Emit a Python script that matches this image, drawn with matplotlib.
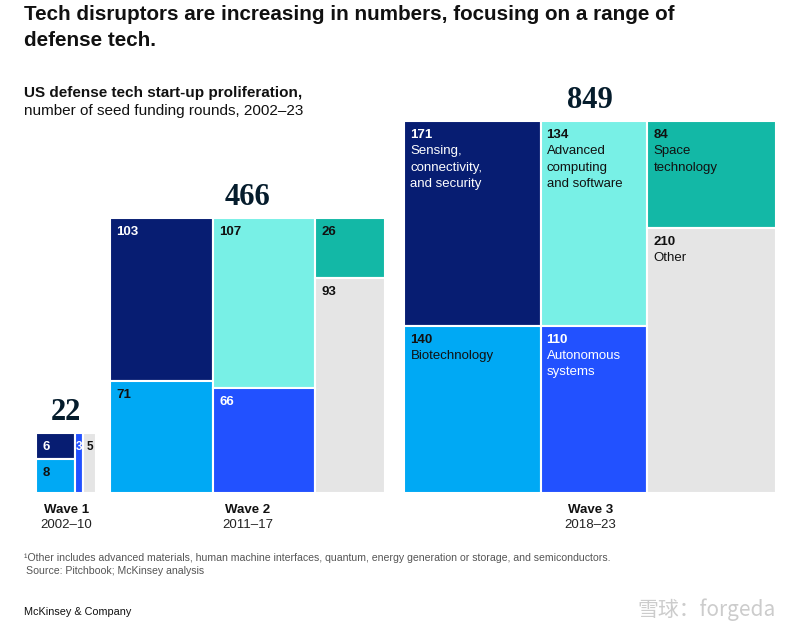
import numpy as np
import matplotlib.pyplot as plt
from matplotlib.patches import Rectangle

# Données : nombre de tours de financement par vague et par catégorie
waves = ["Wave 1", "Wave 2", "Wave 3"]
periods = ["2002\u201310", "2011\u201317", "2018\u201323"]

sensing = [6, 103, 171]
biotech = [8, 71, 140]
computing = [0, 107, 134]
autonomous = [3, 66, 110]
space = [0, 26, 84]
other = [5, 93, 210]

# colonnes : (haut, bas)
columns = [(sensing, biotech), (computing, autonomous), (space, other)]
top_names = ["Sensing,\nconnectivity,\nand security", "Advanced\ncomputing\nand software", "Space\ntechnology"]
bottom_names = ["Biotechnology", "Autonomous\nsystems", "Other"]
top_colors = ["#071d72", "#78f0e6", "#13b8a6"]
bottom_colors = ["#00a9f4", "#2251ff", "#e5e5e5"]
top_text = ["white", "#111111", "#111111"]
bottom_text = ["#111111", "white", "#111111"]

plt.rcParams['font.family'] = ['Liberation Sans', 'DejaVu Sans']

fig = plt.figure(figsize=(8, 6.39), dpi=100)
ax = fig.add_axes([0, 0, 1, 1])
ax.set_xlim(0, 800)
ax.set_ylim(639, 0)
ax.axis('off')

k = 12.75        # pixels par racine d'unité (aire ~ total)
base = 493
gaps = [14, 19]
totals = [sum(c[0][i] + c[1][i] for c in columns) for i in range(3)]
sides = [k * np.sqrt(t) for t in totals]
x0 = 776 - (sum(sides) + sum(gaps))

for i in range(3):
    side = sides[i]
    top = base - side
    cx = x0
    for j, (tser, bser) in enumerate(columns):
        colsum = tser[i] + bser[i]
        if colsum == 0:
            continue
        w = side * colsum / totals[i]
        h_top = side * tser[i] / colsum
        cells = [(tser[i], top, h_top, top_colors[j], top_text[j], top_names[j]),
                 (bser[i], top + h_top, side - h_top, bottom_colors[j], bottom_text[j], bottom_names[j])]
        for val, y, h, col, tc, name in cells:
            if val == 0:
                continue
            ax.add_patch(Rectangle((cx, y), w, h, facecolor=col, edgecolor='white', linewidth=1.5))
            small = w < 20
            ax.text(cx + (w / 2 if small else 6), y + 8, str(val),
                    ha='center' if small else 'left', va='top',
                    fontsize=8.5 if small else 9.5, fontweight='bold', color=tc)
            if i == 2:
                ax.text(cx + 6, y + 24, name, ha='left', va='top', fontsize=9.5,
                        color=tc, linespacing=1.45)
        cx += w
    # total au-dessus
    ax.text(x0 + side / 2, top - 6, str(totals[i]), ha='center', va='bottom',
            fontsize=22, fontweight='bold', color='#051c2c', family='Liberation Serif')
    ax.text(x0 + side / 2, base + 17, waves[i], ha='center', va='center',
            fontsize=9.5, fontweight='bold', color='#111111')
    ax.text(x0 + side / 2, base + 32, periods[i], ha='center', va='center',
            fontsize=9.5, color='#222222')
    if i < 2:
        x0 += side + gaps[i]

# Titres
ax.text(24, 5, "Tech disruptors are increasing in numbers, focusing on a range of\ndefense tech.",
        ha='left', va='top', fontsize=14.9, fontweight='bold', color='#111111',
        linespacing=1.45)
ax.text(24, 93, "US defense tech start-up proliferation,", ha='left', va='center',
        fontsize=11, fontweight='bold', color='#111111')
ax.text(24, 111, "number of seed funding rounds, 2002\u201323", ha='left', va='center',
        fontsize=11, color='#111111')

# Notes
narrow = ['Liberation Sans Narrow', 'Liberation Sans']
ax.text(24, 558, "\u00b9Other includes advanced materials, human machine interfaces, quantum, energy generation or storage, and semiconductors.",
        ha='left', va='center', fontsize=7.6, color='#555555', family=narrow)
ax.text(26, 571, "Source: Pitchbook; McKinsey analysis", ha='left', va='center',
        fontsize=7.6, color='#555555', family=narrow)
ax.text(24, 612, "McKinsey & Company", ha='left', va='center', fontsize=7.8,
        color='#111111', family=narrow)
ax.text(776, 610, "雪球：forgeda", ha='right', va='center', fontsize=15,
        color='#cccccc', family=['Noto Sans CJK SC', 'DejaVu Sans'])

fig.savefig("out.png", dpi=100)
